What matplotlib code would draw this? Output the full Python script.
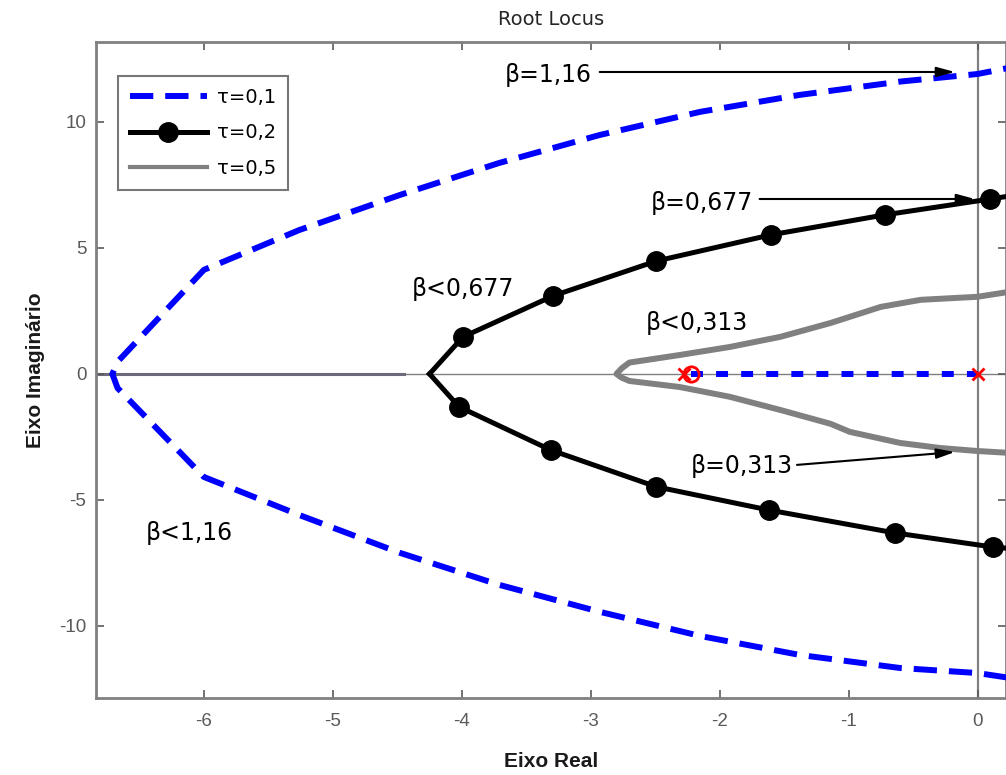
import numpy as np
import matplotlib
matplotlib.use("Agg")
import matplotlib.pyplot as plt

plt.rcParams['font.family'] = ['Liberation Sans', 'DejaVu Sans']
plt.rcParams['axes.unicode_minus'] = False

# ---- data ----
# tau = 0.1 (blue dashed)
tau01_up_re = [-6.71, -6.67, -6.00, -5.26, -4.48, -3.71, -2.93, -2.15, -1.38, -0.60, 0.00, 0.30]
tau01_up_im = [0.00, 0.48, 4.13, 5.71, 7.10, 8.37, 9.48, 10.40, 11.07, 11.60, 11.90, 12.20]
tau01_lo_re = [-6.71, -6.67, -6.00, -5.26, -4.48, -3.71, -2.93, -2.15, -1.38, -0.60, 0.00, 0.30]
tau01_lo_im = [0.00, -0.56, -4.09, -5.60, -7.10, -8.37, -9.44, -10.40, -11.15, -11.67, -11.87, -12.10]
tau01_axis_re = [-2.22, 0.00]
tau01_axis_im = [0.00, 0.00]

# tau = 0.2 (black with markers)
tau02_up_re = [-4.25, -3.99, -3.29, -2.49, -1.60, -0.72, 0.10, 0.30]
tau02_up_im = [0.00, 1.47, 3.10, 4.48, 5.52, 6.31, 6.94, 7.10]
tau02_lo_re = [-4.25, -4.02, -3.31, -2.49, -1.62, -0.64, 0.12, 0.30]
tau02_lo_im = [0.00, -1.31, -3.02, -4.48, -5.40, -6.31, -6.87, -6.95]
tau02_marked = [1, 2, 3, 4, 5, 6]

# tau = 0.5 (gray)
tau05_up_re = [-2.80, -2.76, -2.70, -2.31, -1.92, -1.53, -1.14, -0.75, -0.44, 0.00, 0.30]
tau05_up_im = [0.00, 0.22, 0.45, 0.75, 1.07, 1.47, 2.02, 2.66, 2.94, 3.06, 3.30]
tau05_lo_re = [-2.80, -2.76, -2.70, -2.31, -1.92, -1.53, -1.14, -0.99, -0.60, -0.29, 0.00, 0.30]
tau05_lo_im = [0.00, -0.15, -0.28, -0.52, -0.91, -1.43, -1.98, -2.30, -2.74, -2.94, -3.06, -3.15]

# poles / zeros
poles_re = [-2.28, 0.00]
poles_im = [0.00, 0.00]
zeros_re = [-2.22]
zeros_im = [0.00]

# real-axis locus segment on far left
left_axis_re = [-7.0, -4.45]
left_axis_im = [0.0, 0.0]

legend_labels = ['τ=0,1', 'τ=0,2', 'τ=0,5']

# annotations: (text, x, y) and arrows (start, end)
texts = [
    ('β=1,16', -3.33, 11.87),
    ('β=0,677', -2.14, 6.79),
    ('β<0,677', -3.99, 3.37),
    ('β<0,313', -2.18, 2.02),
    ('β=0,313', -1.83, -3.65),
    ('β<1,16', -6.11, -6.31),
]
arrows = [
    ((-2.93, 11.98), (-0.175, 11.98)),
    ((-1.69, 6.94), (-0.02, 6.94)),
    ((-1.40, -3.61), (-0.175, -3.10)),
]

xticks = [-6, -5, -4, -3, -2, -1, 0]
yticks = [-10, -5, 0, 5, 10]

# ---- figure ----
fig = plt.figure(figsize=(10.06, 7.75), dpi=100)
ax = fig.add_axes([96 / 1006, 1 - 698 / 775, 1 - 96 / 1006, (698 - 42) / 775])
ax.set_xlim(-6.837, 0.221)
ax.set_ylim(-12.86, 13.17)

# axis lines
ax.axhline(0, color='#808080', lw=1.0, zorder=1)
ax.axvline(0, color='#808080', lw=1.6, zorder=1)
ax.plot(left_axis_re, left_axis_im, color='#6a6a7a', lw=2.2, zorder=1.5)

# blue tau=0.1
blue_re = list(reversed(tau01_lo_re)) + tau01_up_re[1:]
blue_im = list(reversed(tau01_lo_im)) + tau01_up_im[1:]
l1, = ax.plot(blue_re, blue_im, color='#0000ff', lw=4.3, linestyle=(0, (3.9, 2.0)),
              label=legend_labels[0], zorder=3)
ax.plot(tau01_axis_re, tau01_axis_im, color='#0000ff', lw=4.3, linestyle=(0, (2.0, 2.2)), zorder=3)

# gray tau=0.5
gray_re = list(reversed(tau05_lo_re)) + tau05_up_re[1:]
gray_im = list(reversed(tau05_lo_im)) + tau05_up_im[1:]
ax.plot(gray_re, gray_im, color='#808080', lw=4.3, solid_joinstyle='round', zorder=2)
l3, = ax.plot([], [], color='#808080', lw=3.0, label=legend_labels[2])

# black tau=0.2
l2, = ax.plot(tau02_up_re, tau02_up_im, color='black', lw=3.6, marker='o', markersize=14,
              markevery=tau02_marked, label=legend_labels[1], zorder=4)
ax.plot(tau02_lo_re, tau02_lo_im, color='black', lw=3.6, marker='o', markersize=14,
        markevery=tau02_marked, zorder=4)

# poles and zeros
ax.plot(poles_re, poles_im, linestyle='none', marker='x', color='red', markersize=9, mew=2, zorder=5)
ax.plot(zeros_re, zeros_im, linestyle='none', marker='o', mfc='none', mec='red', markersize=11,
        mew=2, zorder=5)

# annotations
for t, x, y in texts:
    ax.text(x, y, t, fontsize=17, ha='center', va='center', color='black', zorder=6,
            family=['DejaVu Sans'])
for start, end in arrows:
    ax.annotate('', xy=end, xytext=start,
                arrowprops=dict(arrowstyle='-|>,head_length=1.1,head_width=0.3',
                                color='black', lw=1.5, shrinkA=0, shrinkB=0), zorder=6)

# ticks and spines
ax.set_xticks(xticks)
ax.set_yticks(yticks)
ax.tick_params(direction='in', length=6, width=1.2, colors='#5a5a5a', labelsize=13.5,
               top=True, right=True, pad=7)
ax.tick_params(axis='x', pad=10.5)
for s in ax.spines.values():
    s.set_color('#808080')
    s.set_linewidth(2.0)

ax.set_title('Root Locus', fontsize=14, color='#262626', pad=12, family=['DejaVu Sans'])
ax.set_xlabel('Eixo Real', fontsize=15, fontweight='bold', color='#1a1a1a', labelpad=16)
ax.set_ylabel('Eixo Imaginário', fontsize=15, fontweight='bold', color='#1a1a1a', labelpad=10)

leg = ax.legend(handles=[l1, l2, l3], loc='upper left', bbox_to_anchor=(0.024, 0.948),
                borderaxespad=0, handlelength=4.0, frameon=True, fancybox=False,
                prop={'family': ['DejaVu Sans'], 'size': 14},
                edgecolor='#555555', borderpad=0.6, labelspacing=0.85, handletextpad=0.5)
leg.get_frame().set_linewidth(1.5)

fig.savefig('out.png', dpi=100)
